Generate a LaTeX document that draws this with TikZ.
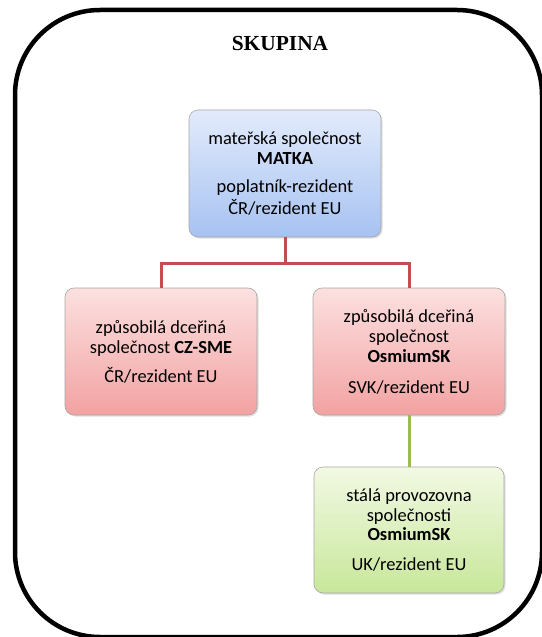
\documentclass[tikz,border=0pt]{standalone}
\usepackage{fontspec}
\setmainfont{Carlito}
\newfontfamily\titlefont{Liberation Serif}
\usetikzlibrary{shadows}
\definecolor{blueT}{HTML}{E2EBFB}
\definecolor{blueB}{HTML}{A7C2F2}
\definecolor{redT}{HTML}{FCE0E0}
\definecolor{redB}{HTML}{F2A2A2}
\definecolor{greenT}{HTML}{F2F9E4}
\definecolor{greenB}{HTML}{C8E79A}
\definecolor{redline}{HTML}{C0504D}
\definecolor{greenline}{HTML}{9BBB59}
\begin{document}
\begin{tikzpicture}[x=1bp,y=-1bp,
  box/.style={rounded corners=9bp, draw=gray!70, line width=0.6bp, align=center,
    font=\fontsize{18.5}{20}\selectfont, inner sep=0pt, minimum width=192bp, minimum height=127bp,
    drop shadow={opacity=0.25, shadow xshift=1.5bp, shadow yshift=-1.5bp}},
  bluebox/.style={box, top color=blueT, bottom color=blueB},
  redbox/.style={box, top color=redT, bottom color=redB},
  greenbox/.style={box, top color=greenT, bottom color=greenB},
  redconn/.style={draw=redline, line width=3bp},
  greenconn/.style={draw=greenline, line width=3bp},
  frame/.style={draw=black, line width=4.5bp, rounded corners=85bp}
]
\useasboundingbox (0,0) rectangle (542,637);
\draw[frame] (15,10) rectangle (542,637);
\node[font=\titlefont\bfseries\fontsize{21.5}{24}\selectfont, anchor=base] (title) at (280,51) {SKUPINA};
\node[bluebox] (matka) at (285,173.5) {mateřská společnost\\ \textbf{MATKA}\\[9pt] poplatník-rezident\\[2pt] ČR/rezident EU};
\node[redbox] (czsme) at (161,351.5) {způsobilá dceřiná\\ společnost \textbf{CZ-SME}\\[9pt] ČR/rezident EU};
\node[redbox] (osk) at (409,351.5) {způsobilá dceřiná\\ společnost\\ \textbf{OsmiumSK}\\[11pt] SVK/rezident EU};
\node[greenbox, minimum width=190bp, minimum height=126bp] (pe) at (409,530) {stálá provozovna\\ společnosti\\ \textbf{OsmiumSK}\\[10pt] UK/rezident EU};
\draw[redconn] (matka.south) -- ++(0,26) coordinate (j) -| (czsme.north);
\draw[redconn] (j) -| (osk.north);
\draw[greenconn] (osk.south) -- (pe.north);
\end{tikzpicture}
\end{document}
